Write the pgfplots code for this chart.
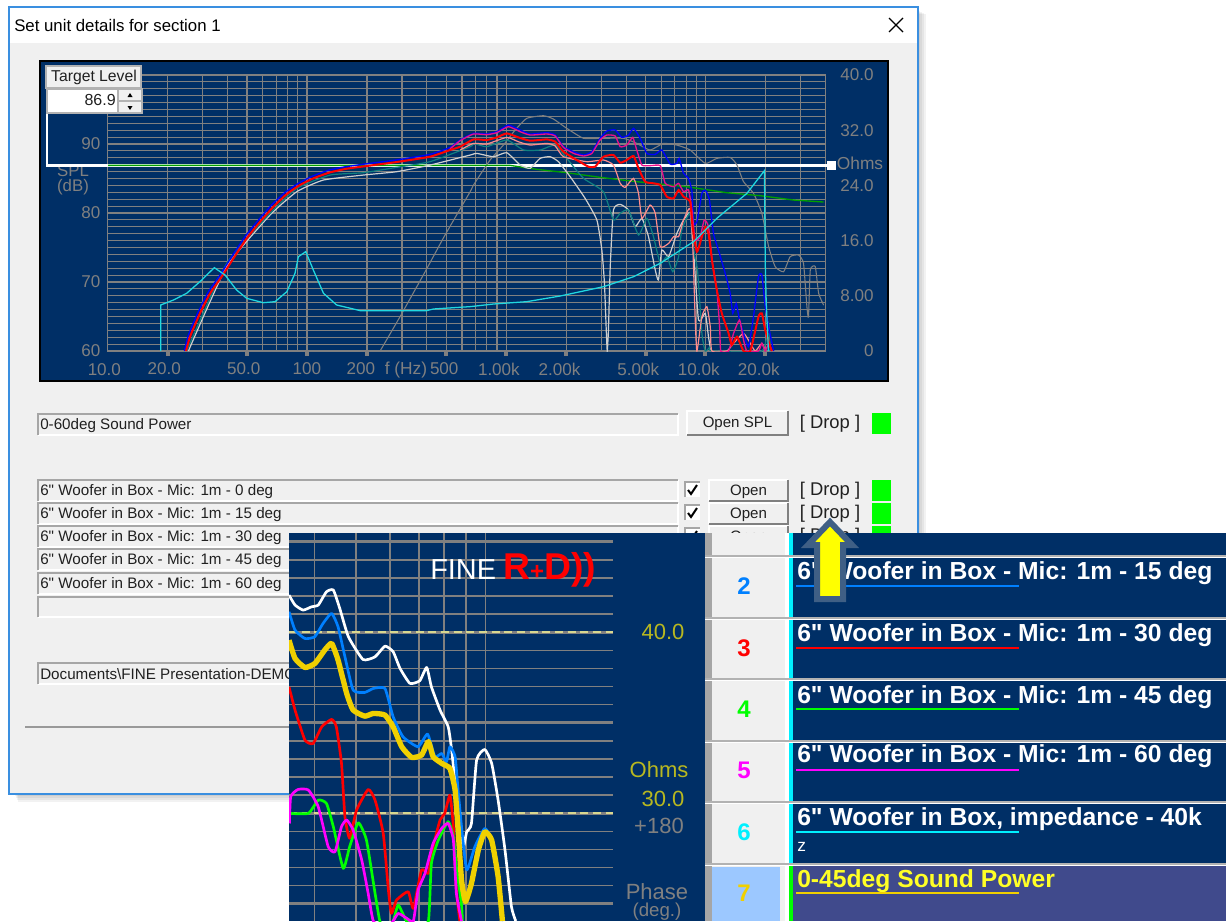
\documentclass[border=0pt]{standalone}
\usepackage{fontspec}
\setmainfont{Liberation Sans}[Ligatures=TeXOff]
\usepackage{pgfplots}
\pgfplotsset{compat=1.18}
\newcommand\fs[1]{\fontsize{#1}{#1}\selectfont}
\newcommand\tl[2]{\makebox[0pt][c]{\hspace*{#1pt}#2}}
\definecolor{navy}{HTML}{002F66}
\definecolor{win}{HTML}{F0F0F0}
\definecolor{gridg}{HTML}{808080}
\definecolor{bord}{HTML}{3A8FE0}
\definecolor{pinkc}{HTML}{E8108C}
\definecolor{salm}{HTML}{FF8C8C}
\definecolor{tealc}{HTML}{108080}
\definecolor{lgray}{HTML}{CFCFCF}
\definecolor{grn}{HTML}{00A000}
\definecolor{cyanc}{HTML}{20D8E0}
\definecolor{khaki}{HTML}{D8D890}
\definecolor{yel}{HTML}{F0D000}
\definecolor{olive}{HTML}{B8B820}
\definecolor{blue2}{HTML}{0080FF}
\definecolor{row7}{HTML}{404A8C}
\definecolor{cell7}{HTML}{9CC8FF}
\definecolor{arrowb}{HTML}{3F5F85}
\definecolor{txt}{HTML}{202020}
\definecolor{mag}{HTML}{FF00FF}
\definecolor{cy}{HTML}{00F0FF}
\definecolor{yl}{HTML}{FFFF00}
\definecolor{gr}{HTML}{00FF00}
\definecolor{rd}{HTML}{FF0000}
\definecolor{bl}{HTML}{0000FF}
\newcommand\field[5]{%
  \fill[win] (#1,#2) rectangle (#3,#4);
  \draw[white,line width=0.8pt] (#1,#4) -- (#3,#4) -- (#3,#2);
  \draw[gray!70,line width=1.2pt] (#1,#4) -- (#1,#2) -- (#3,#2);
  \node[anchor=west,inner sep=0pt,text=txt,font=\fs{11.4}] at (#1+2,{(#2+#4)/2+1}) {#5};}
\newcommand\btn[5]{%
  \fill[win] (#1,#2) rectangle (#3,#4);
  \draw[white,line width=0.8pt] (#1,#4) -- (#1,#2) -- (#3,#2);
  \draw[gray,line width=1.3pt] (#1,#4) -- (#3,#4) -- (#3,#2);
  \node[text=txt,font=\fs{11.3},inner sep=0pt] at ({(#1+#3)/2},{(#2+#4)/2+1}) {#5};}
\newcommand\chk[1]{%
  \fill[white] (685,#1) rectangle (700,#1+15);
  \draw[gray!70,line width=1.2pt] (685,#1+15) -- (685,#1) -- (700,#1);
  \draw[black,line width=1.5pt] (688,#1+8) -- (691,#1+12) -- (697,#1+3);}
\newcommand\drp[1]{\node[text=txt,font=\fs{13.8},inner sep=0pt] at (830,#1) {[ Drop ]};}
\newcommand\grn[1]{\fill[gr] (872,#1) rectangle (891,#1+21);}
\newcommand\rowtxt[4]{%
  \node[anchor=west,inner sep=0pt,text=white,font=\bfseries\fs{18.5}] at (797,#1+2) {#4};
  \draw[#3,line width=2.2pt] (796,#2) -- (1019,#2);}
\begin{document}
\begin{tikzpicture}[x=0.75pt,y=-0.75pt]
\path[use as bounding box] (0,0) rectangle (1226,921);
\clip (0,0) rectangle (1226,921);
\fill[white] (0,0) rectangle (1226,921);
% window shadow
\foreach \d in {8,6,4,2}{\fill[black,opacity=0.05] (14+\d/2,10+\d/2) rectangle (918+\d,794+\d);}
\fill[win] (10,7) rectangle (918,794);
\fill[white] (10,7) rectangle (918,43);
\draw[bord,line width=1.1pt] (9,794) rectangle (918,7);
\node[anchor=west,inner sep=0pt,text=black,font=\fs{12.6}] at (14,25) {Set unit details for section 1};
\draw[black,line width=0.9pt] (889,18) -- (903,32) (903,18) -- (889,32);
% graph panel
\fill[navy] (40,61) rectangle (888,381);
\draw[black,line width=0.8pt] (40,61) rectangle (888,381);
\node[gridg,font=\fs{12.6},inner sep=0pt,align=center] at (73,180) {SPL\\[-1pt](dB)};
\node[gridg,font=\fs{13},inner sep=0pt] at (406,370) {f (Hz)};
\node[gridg,font=\fs{13},inner sep=0pt] at (860,163) {Ohms};
\coordinate (mainsw) at (107.7,351);
\begin{axis}[at={(mainsw)},anchor=south west,scale only axis,width=538pt,height=207pt,
  xmin=1,xmax=4.6,ymin=60,ymax=100,
  clip=true,
  axis line style={gridg,line width=0.8pt},
  xtick pos=bottom,ytick pos=left,
  xtick={1.301,1.699,2,2.301,2.699,3,3.301,3.699,4,4.301},
  xticklabels={\tl{-5}{20.0},\tl{-5}{50.0},\tl{0}{100},\tl{-9}{200},\tl{-3}{500},\tl{-11}{1.00k},\tl{-10}{2.00k},\tl{-11}{5.00k},\tl{-10}{10.0k},\tl{-10}{20.0k}},
  extra x ticks={1},extra x tick labels={\tl{-5}{10.0}},extra x tick style={major tick length=0pt,xticklabel style={yshift=-4.2pt}},
  minor xtick={1.301,1.477,1.602,1.699,1.778,1.845,1.903,1.954,2,2.301,2.477,2.602,2.699,2.778,2.845,2.903,2.954,3,3.301,3.477,3.602,3.699,3.778,3.845,3.903,3.954,4,4.301,4.477},
  ytick={60,70,80,90,100},yticklabels={60,70,80,90,{}},
  minor ytick={61,...,99},
  xminorgrids=true,xmajorgrids=false,ymajorgrids=true,yminorgrids=true,
  major grid style={gridg,line width=1.5pt},
  minor grid style={gridg,line width=0.85pt},
  major tick length=3.4pt,minor tick length=0pt,tick align=outside,
  xtick style={gridg,line width=3pt},ytick style={draw=none},
  tick label style={gridg,font=\fs{12.8}},
  xticklabel style={yshift=-2pt},
  yticklabel style={xshift=1.5pt},
  every axis plot/.append style={smooth,tension=0.3},
]
% target level
\addplot[white,line width=1.8pt,sharp plot] coordinates {(1,86.9) (4.6,86.9)};
% phase (grey)
\addplot[gridg,line width=0.8pt] coordinates {(2.367,60) (2.467,64.97) (2.593,71.49) (2.693,76.81) (2.819,83.09) (2.836,84.06) (2.919,87.68) (2.986,89.85) (3.045,92.03) (3.103,93.72) (3.187,94.10) (3.237,93.62) (3.304,92.27) (3.388,90.82) (3.471,90.82) (3.589,90.82) (3.655,90.09) (3.722,89.13) (3.789,90.09) (3.856,89.85) (3.923,89.13) (3.999,87.19) (4.057,87.92) (4.124,88.06) (4.158,86.95) (4.191,84.54) (4.241,82.85) (4.283,79.95) (4.317,75.12) (4.350,72.22) (4.392,71.49) (4.425,73.67) (4.467,73.91) (4.492,72.70) (4.509,66.42) (4.517,64.97) (4.526,71.73) (4.551,72.22) (4.568,68.35) (4.593,66.66)};
% sum / green
\addplot[grn,line width=1pt,sharp plot] coordinates {(1,86.9) (3.020,86.9) (3.153,86.33) (3.304,85.84) (3.471,85.17) (3.655,84.54) (3.907,83.81) (4.107,82.94) (4.275,82.51) (4.442,81.88) (4.593,81.59)};
% light grey
\addplot[lgray,line width=0.9pt] coordinates {(1.405,60) (1.597,72.22) (1.815,79.71) (1.949,83.09) (2.083,84.78) (2.283,85.50) (2.451,85.99) (2.618,86.95) (2.819,88.40) (2.852,88.64) (2.936,88.16) (3.003,88.74) (3.070,86.95) (3.120,86.47) (3.170,87.92) (3.220,88.16) (3.262,87.44) (3.321,85.26) (3.396,82.12) (3.455,78.98) (3.480,74.63) (3.493,69.80) (3.502,63.04) (3.507,60) (3.513,63.04) (3.522,72.22) (3.538,80.43) (3.572,81.25) (3.614,80.43) (3.647,78.02) (3.681,79.22) (3.714,76.57) (3.748,71.73) (3.764,70.29) (3.781,74.63) (3.815,73.67) (3.856,77.05) (3.890,78.98) (3.923,79.95) (3.940,74.63) (3.965,64.49) (3.999,65.46) (4.015,62.07) (4.027,60)};
% teal
\addplot[tealc,line width=0.9pt] coordinates {(1.396,60) (1.597,72.70) (1.815,79.95) (1.949,83.57) (2.116,85.50) (2.283,85.84) (2.451,86.62) (2.618,87.44) (2.819,89.61) (2.836,90.09) (2.902,89.61) (3.003,90.58) (3.087,89.13) (3.170,89.13) (3.246,89.85) (3.304,87.92) (3.388,85.02) (3.488,83.09) (3.538,78.98) (3.572,79.95) (3.614,80.43) (3.664,76.81) (3.706,79.22) (3.739,76.57) (3.773,72.70) (3.806,73.67) (3.836,71.49) (3.865,73.67) (3.881,77.53) (3.923,79.95) (3.940,74.63) (3.960,71.73) (3.982,62.56) (3.999,60) (4.024,60.62) (4.032,60) (4.283,60) (4.317,64) (4.325,60)};
% salmon
\addplot[salm,line width=0.9pt] coordinates {(2.769,89.13) (2.836,90.09) (2.902,90.00) (3.003,90.96) (3.061,90.33) (3.120,89.85) (3.204,90.09) (3.246,89.71) (3.287,88.16) (3.404,87.44) (3.488,87.68) (3.538,86.95) (3.572,84.30) (3.597,83.72) (3.639,85.02) (3.664,82.85) (3.681,79.22) (3.722,81.16) (3.748,79.95) (3.773,75.12) (3.815,75.60) (3.840,76.57) (3.865,76.57) (3.890,78.98) (3.923,80.67) (3.937,74.63) (3.948,64.97) (3.957,60) (3.982,64.97) (4.007,66.42) (4.024,63.52) (4.032,60) (4.107,60) (4.141,61.11) (4.191,62.56) (4.225,61.11) (4.250,60) (4.283,61.11) (4.300,60)};
% blue 0 deg
\addplot[bl,line width=1pt] coordinates {(1.385,60) (1.405,62.3) (1.455,65.7) (1.506,68.6) (1.564,71) (1.623,73.7) (1.690,76.6) (1.757,79) (1.824,81.2) (1.891,83) (1.957,84.3) (2.024,85.3) (2.108,86.2) (2.192,86.7) (2.292,87.1) (2.451,87.7) (2.618,88.5) (2.718,89.5) (2.769,90.58) (2.836,91.54) (2.902,91.45) (2.953,91.78) (3.011,92.75) (3.070,92.03) (3.120,91.45) (3.204,91.64) (3.246,91.30) (3.287,89.61) (3.338,88.89) (3.388,88.40) (3.430,88.89) (3.471,90.82) (3.505,91.88) (3.547,92.03) (3.580,90.96) (3.614,91.30) (3.639,92.27) (3.672,90.82) (3.706,88.64) (3.748,88.50) (3.781,89.13) (3.823,87.10) (3.856,87.19) (3.868,87.92) (3.890,85.75) (3.915,85.02) (3.932,83.09) (3.940,78.50) (3.957,78.74) (3.982,82.85) (3.999,83.33) (4.020,81.88) (4.040,77.05) (4.065,74.63) (4.099,71.25) (4.124,68.35) (4.137,65.46) (4.154,66.90) (4.171,64.49) (4.191,62.56) (4.216,60.62) (4.241,64.97) (4.266,70.77) (4.283,71.01) (4.300,66.42) (4.317,63.52) (4.342,60)};
% pink
\addplot[pinkc,line width=1pt] coordinates {(2.718,89.3) (2.769,90.48) (2.836,91.45) (2.902,91.35) (2.953,91.64) (3.011,92.51) (3.070,91.78) (3.120,91.30) (3.204,91.45) (3.246,91.16) (3.287,89.51) (3.338,88.64) (3.388,88.26) (3.430,88.64) (3.471,90.58) (3.505,91.30) (3.547,91.16) (3.572,89.61) (3.605,89.85) (3.635,90.96) (3.655,89.13) (3.681,86.95) (3.722,86.86) (3.773,86.86) (3.798,84.30) (3.840,83.81) (3.865,84.30) (3.890,83.09) (3.915,83.33) (3.932,80.43) (3.948,76.08) (3.973,76.57) (3.994,78.98) (4.015,78.02) (4.035,72.70) (4.057,68.84) (4.071,63.52) (4.077,60) (4.116,60) (4.141,62.56) (4.171,64.49) (4.191,61.59) (4.208,60) (4.266,60) (4.283,61.11) (4.300,60) (4.317,61.11) (4.333,60)};
% red
\addplot[rd,line width=1.5pt] coordinates {(1.393,60) (1.413,62.07) (1.463,65.46) (1.514,68.35) (1.572,70.77) (1.631,73.43) (1.698,76.33) (1.765,78.74) (1.832,80.91) (1.899,82.75) (1.965,84.06) (2.032,85.02) (2.116,85.89) (2.200,86.42) (2.300,86.81) (2.451,87.39) (2.618,88.16) (2.718,89.13) (2.769,89.61) (2.836,90.67) (2.902,90.58) (2.953,90.96) (3.003,91.54) (3.061,90.96) (3.120,90.48) (3.204,90.67) (3.246,90.33) (3.287,88.89) (3.354,87.68) (3.413,86.71) (3.446,86.71) (3.488,88.16) (3.538,88.40) (3.572,87.29) (3.605,87.68) (3.639,88.26) (3.664,86.47) (3.697,84.54) (3.739,84.30) (3.773,84.05) (3.806,82.36) (3.840,82.12) (3.865,83.33) (3.890,82.36) (3.923,81.64) (3.935,78.02) (3.957,74.39) (3.982,76.57) (3.999,78.02) (4.015,77.05) (4.035,72.70) (4.057,68.84) (4.082,65.46) (4.116,62.56) (4.132,60.87) (4.158,62.07) (4.191,60) (4.225,60) (4.266,64.97) (4.283,65.46) (4.300,63.04) (4.325,60.62) (4.333,60)};
\end{axis}
\begin{axis}[at={(mainsw)},anchor=south west,scale only axis,width=538pt,height=207pt,
  xmin=1,xmax=4.6,ymin=0,ymax=40,
  hide x axis,axis y line*=right,y axis line style={draw=none},
  ytick={0,8,16,24,32,40},yticklabels={0,8.00,16.0,24.0,32.0,40.0},
  ytick style={draw=none},
  tick label style={gridg,font=\fs{12.8}},
  yticklabel style={anchor=east,xshift=40pt},
]
% impedance
\addplot[cyanc,line width=0.95pt] coordinates {(1.266,0) (1.266,6.67) (1.330,7.39) (1.396,8.36) (1.463,10.05) (1.535,12.08) (1.589,11.01) (1.647,8.84) (1.698,7.63) (1.781,7.00) (1.840,7.15) (1.899,8.60) (1.940,11.26) (1.957,13.67) (1.994,14.40) (2.032,11.74) (2.083,8.36) (2.149,6.67) (2.267,5.85) (2.451,5.85) (2.601,5.85) (2.635,6.09) (2.819,6.43) (2.936,6.81) (3.103,7.15) (3.271,7.97) (3.488,9.32) (3.639,10.77) (3.773,12.71) (3.940,15.85) (4.057,19.23) (4.208,22.85) (4.296,26.14) (4.300,12.71) (4.305,6.91) (4.316,0)};
\end{axis}
% target level controls
\draw[white,line width=1.9pt] (47,113) -- (47,165.3) -- (107.7,165.3);
\draw[white,line width=1.8pt] (824,165.3) -- (832,165.3);
\fill[white] (827,161) rectangle (836,170);
\fill[win] (46,66) rectangle (141,88);
\draw[gray!60,line width=0.8pt] (46,66) rectangle (141,88);
\node[text=txt,font=\fs{11.8},inner sep=0pt] at (94,77) {Target Level};
\fill[white] (47,89) rectangle (118,113);
\draw[gray!60,line width=0.8pt] (47,89) rectangle (118,113);
\node[anchor=east,text=txt,font=\fs{12},inner sep=0pt] at (116,100) {86.9};
\fill[win] (118,89) rectangle (142,113);
\draw[gray!60,line width=0.8pt] (118,89) rectangle (142,113) (118,101) -- (142,101);
\fill[black] (130,93) -- (127.5,97) -- (132.5,97) -- cycle;
\fill[black] (130,110) -- (127.5,106) -- (132.5,106) -- cycle;
% fields
\field{38}{414}{678}{435}{0-60deg Sound Power}
\btn{687}{411}{788}{435}{Open SPL}
\drp{424}
\grn{413}
\field{38}{480}{678}{501}{6" Woofer in Box - Mic: 1m - 0 deg}
\field{38}{503}{678}{524}{6" Woofer in Box - Mic: 1m - 15 deg}
\field{38}{526}{678}{547}{6" Woofer in Box - Mic: 1m - 30 deg}
\field{38}{549}{678}{570}{6" Woofer in Box - Mic: 1m - 45 deg}
\field{38}{573}{678}{594}{6" Woofer in Box - Mic: 1m - 60 deg}
\field{38}{597}{678}{617}{}
\field{38}{663}{678}{684}{Documents\textbackslash FINE Presentation-DEMO}
\draw[gray!80,line width=0.8pt] (25,727) -- (918,727);
\chk{482}\chk{505}\chk{528}
\btn{709}{480}{788}{501}{Open}
\btn{709}{503}{788}{524}{Open}
\btn{709}{526}{788}{547}{Open}
\drp{491}\drp{514}\drp{537}
\grn{480}\grn{503}\grn{526}
% inset
\fill[navy] (289,533) rectangle (1226,921);
\coordinate (insw) at (289,921);
\begin{axis}[at={(insw)},anchor=south west,scale only axis,width=243pt,height=291pt,
  xmin=3.543,xmax=4.296,ymin=74.04,ymax=95.48,
  axis line style={draw=none},
  xtick={3.602,3.699,3.778,3.845,3.903,3.954,4},xticklabels={},
  minor xtick={3.602,3.699,3.778,3.845,3.903,3.954,4},
  ytick={75,85,95},yticklabels={},
  minor ytick={76,...,84,86,87,88,89,90,91,92,93,94},
  xminorgrids=true,xmajorgrids=false,ymajorgrids=true,yminorgrids=true,
  major grid style={gridg,line width=1.9pt},
  minor grid style={gridg,line width=1.1pt},
  major tick length=0pt,minor tick length=0pt,
  every axis plot/.append style={line join=round},
]
\addplot[gridg,line width=2.2pt] coordinates {(3.543,90) (4.296,90)};
\addplot[gridg,line width=2.2pt] coordinates {(3.543,80) (4.296,80)};
\addplot[khaki,line width=1.3pt,dash pattern=on 6pt off 3.5pt] coordinates {(3.543,90) (4.296,90)};
\addplot[khaki,line width=1.3pt,dash pattern=on 6pt off 3.5pt] coordinates {(3.543,80) (4.296,80)};
% 0 deg
\addplot[white,line width=2pt,smooth,tension=0.3] coordinates {(3.543,92.05) (3.557,91.50) (3.576,91.22) (3.595,91.40) (3.611,91.50) (3.630,92.23) (3.646,92.33) (3.661,91.31) (3.681,89.75) (3.715,88.49) (3.743,88.64) (3.766,89.23) (3.785,88.92) (3.801,88.00) (3.824,87.17) (3.847,87.32) (3.863,88.05) (3.874,86.98) (3.894,85.70) (3.913,84.77) (3.921,83.49) (3.929,81.64) (3.936,79.80) (3.948,78.15) (3.956,78.97) (3.967,79.43) (3.979,82.93) (3.998,83.52) (4.014,82.75) (4.029,80.72) (4.045,77.96) (4.060,74.83) (4.070,74.04)};
% 15 deg
\addplot[blue2,line width=2pt,smooth,tension=0.3] coordinates {(3.543,91.13) (3.557,90.12) (3.580,89.65) (3.603,89.75) (3.622,90.48) (3.642,91.04) (3.657,90.30) (3.673,88.64) (3.692,86.80) (3.719,86.67) (3.739,86.89) (3.766,86.89) (3.785,85.33) (3.808,84.22) (3.843,83.67) (3.865,84.37) (3.882,83.12) (3.898,83.30) (3.909,82.84) (3.917,83.67) (3.929,83.12) (3.936,81.28) (3.944,79.25) (3.956,76.86) (3.975,78.15) (3.998,79.16) (4.014,78.51) (4.029,76.49) (4.041,74.04)};
% 30 deg
\addplot[rd,line width=2pt,smooth,tension=0.3] coordinates {(3.543,86.98) (3.557,85.70) (3.580,84.04) (3.599,83.85) (3.619,84.77) (3.642,85.18) (3.653,84.77) (3.665,82.75) (3.673,79.80) (3.684,78.61) (3.700,80.17) (3.727,81.31) (3.743,80.72) (3.762,78.88) (3.774,75.75) (3.781,74.46) (3.793,75.20) (3.820,75.66) (3.832,74.74) (3.851,76.86) (3.867,76.67) (3.878,78.15) (3.894,79.62) (3.905,79.99) (3.917,81.00) (3.925,79.25) (3.932,75.75) (3.940,74.04)};
% 45 deg
\addplot[gr,line width=2pt,smooth,tension=0.3] coordinates {(3.543,79.99) (3.588,79.99) (3.611,80.72) (3.630,80.54) (3.646,79.25) (3.669,76.95) (3.684,78.15) (3.704,79.47) (3.723,78.51) (3.743,75.57) (3.754,74.04) (3.766,73.5) (3.785,74.04) (3.797,74.92) (3.816,74.04) (3.843,73.5) (3.867,74.04) (3.874,77.22) (3.890,78.51) (3.913,79.53) (3.925,78.70) (3.932,77.04) (3.944,74.92) (3.946,74.04)};
% 60 deg
\addplot[mag,line width=2pt,smooth,tension=0.3] coordinates {(3.544,79.43) (3.547,80.91) (3.564,81.31) (3.588,81.28) (3.611,80.35) (3.634,78.15) (3.650,77.87) (3.665,79.25) (3.677,79.62) (3.692,79.07) (3.712,77.41) (3.727,75.57) (3.739,74.04) (3.766,73.5) (3.785,74.04) (3.797,74.46) (3.816,74.2) (3.832,74.04) (3.843,75.75) (3.859,76.67) (3.878,78.33) (3.898,79.16) (3.913,79.43) (3.925,78.51) (3.932,75.57) (3.944,74.04)};
% sound power
\addplot[yel,line width=4pt,smooth,tension=0.3] coordinates {(3.543,89.56) (3.557,88.55) (3.580,88.05) (3.603,88.27) (3.626,89.01) (3.642,89.38) (3.657,88.46) (3.677,86.62) (3.692,85.70) (3.719,85.36) (3.739,85.51) (3.766,85.42) (3.785,84.77) (3.805,83.67) (3.828,83.08) (3.851,83.21) (3.867,83.95) (3.878,83.12) (3.898,82.75) (3.917,82.47) (3.929,81.28) (3.936,79.07) (3.944,76.30) (3.953,75.11) (3.967,76.12) (3.983,77.96) (3.998,78.97) (4.014,78.51) (4.029,76.49) (4.039,74.04)};
\end{axis}
\node[white,font=\fs{21.7},inner sep=0pt,anchor=west] at (430,570) {FINE};
\node[rd,font=\bfseries\fs{28},inner sep=0pt,anchor=west] at (503,570) {R{\fs{18}+}D))};
% right panel
\fill[navy] (614,533) rectangle (705,921);
\node[olive,font=\fs{16.5},inner sep=0pt] at (663,632) {40.0};
\node[olive,font=\fs{16.5},inner sep=0pt] at (659,770) {Ohms};
\node[olive,font=\fs{16.5},inner sep=0pt] at (663,799) {30.0};
\node[gridg,font=\fs{16.5},inner sep=0pt] at (659,826) {+180};
\node[gridg,font=\fs{16.5},inner sep=0pt] at (657,892) {Phase};
\node[gridg,font=\fs{14},inner sep=0pt] at (657,912) {(deg.)};
% table cells
\fill[gray!70] (705,533) rectangle (712,921);
\fill[win] (712,533) rectangle (785,921);
\fill[white] (785,533) rectangle (789,921);
\fill[cy] (789,533) rectangle (793,864);
\fill[gr] (789,864) rectangle (793,921);
\fill[row7] (793,864) rectangle (1226,921);
\fill[cell7] (712,867) rectangle (780,921);
\foreach \y in {556,618,679,741,802,864}{
  \fill[gray!60] (705,\y-1.5) rectangle (1226,\y+0.5);
  \fill[white] (705,\y+0.5) rectangle (1226,\y+1.5);
}
\foreach \y/\c/\n in {586/blue2/2,648/rd/3,709/gr/4,770/mag/5,832/cy/6,893/yel/7}{
  \node[text=\c,font=\bfseries\fs{18},inner sep=0pt] at (744,\y) {\n};
}
\rowtxt{571}{586}{blue2}{6" Woofer in Box - Mic: 1m - 15 deg}
\rowtxt{633}{648}{rd}{6" Woofer in Box - Mic: 1m - 30 deg}
\rowtxt{695}{709}{gr}{6" Woofer in Box - Mic: 1m - 45 deg}
\rowtxt{754}{770}{mag}{6" Woofer in Box - Mic: 1m - 60 deg}
\rowtxt{817}{832}{cy}{6" Woofer in Box, impedance - 40k}
\node[white,font=\fs{13},inner sep=0pt,anchor=west] at (797,847) {z};
\node[anchor=west,inner sep=0pt,text=yl!85!white,font=\bfseries\fs{18.5}] at (797,881) {0-45deg Sound Power};
\draw[yel,line width=2.2pt] (796,893) -- (1019,893);
% arrow
\draw[arrowb,line width=4.5pt,fill=yl,line join=miter] (830,522) -- (852,545) -- (843,545) -- (843,599) -- (817,599) -- (817,545) -- (808,545) -- cycle;
\end{tikzpicture}
\end{document}
